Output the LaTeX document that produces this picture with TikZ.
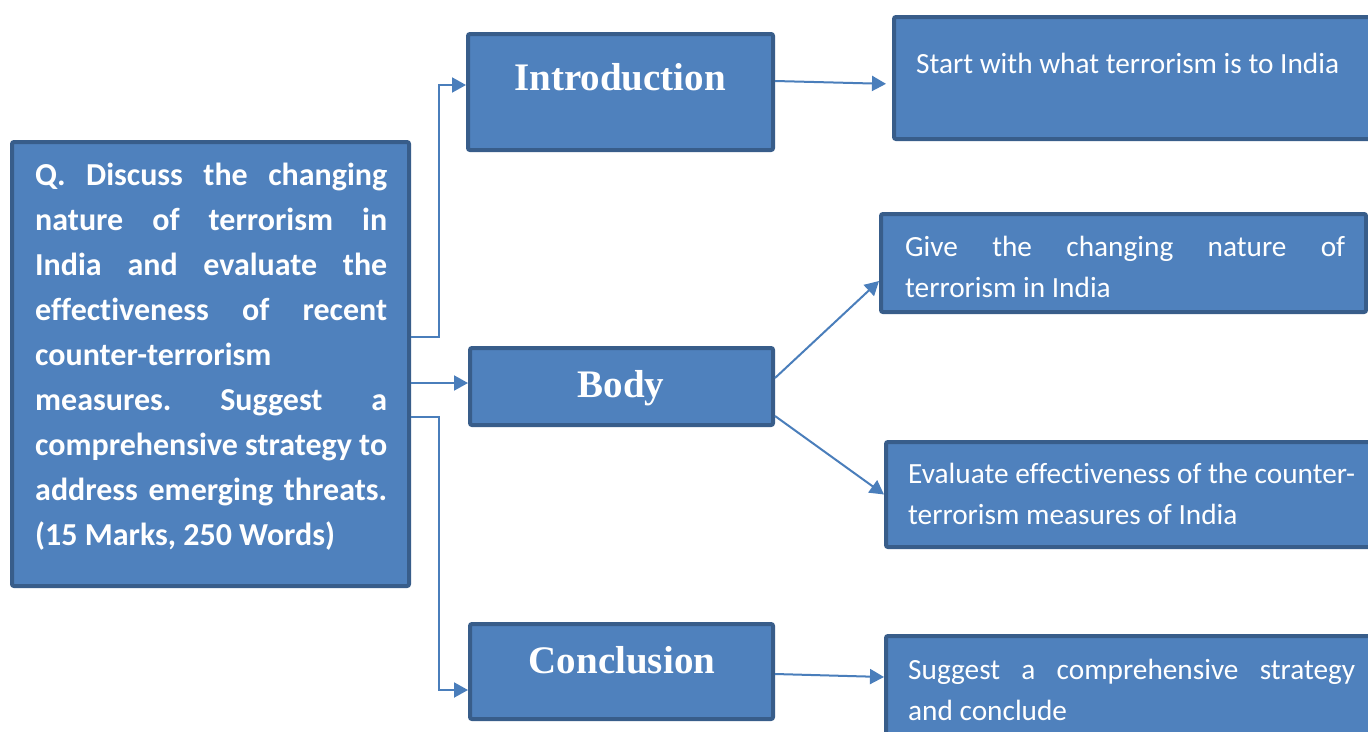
\documentclass[tikz,border=0pt]{standalone}
\usepackage{fontspec}
\setmainfont{Carlito}[Ligatures=NoCommon]
\newfontfamily\headfont{Liberation Serif}
\usetikzlibrary{arrows.meta}
\definecolor{boxfill}{HTML}{4F81BD}
\definecolor{boxline}{HTML}{385D8A}
\definecolor{conncol}{HTML}{4A7EBB}
\newcommand{\jl}[2]{\makebox[#1][s]{#2}}
\frenchspacing
\begin{document}
\begin{tikzpicture}[x=1pt,y=-1pt,
  box/.style={draw=boxline, fill=boxfill, line width=4pt, rounded corners=2pt, inner sep=0pt, anchor=north west},
  head/.style={text=white, inner sep=0pt, anchor=base, font=\headfont\bfseries\fontsize{39}{39}\selectfont},
  qtext/.style={text=white, inner sep=0pt, anchor=base west, font=\bfseries\fontsize{32}{45}\selectfont},
  rtext/.style={text=white, inner sep=0pt, anchor=base west, font=\fontsize{29.3}{41}\selectfont},
  conn/.style={draw=conncol, line width=2pt, -{Triangle[length=14pt,width=15pt]}}]
\useasboundingbox (0,0) rectangle (1368,731);
\clip (0,0) rectangle (1368,731);
\fill[white] (0,0) rectangle (1368,731);
% boxes
\node[box, minimum width=397pt, minimum height=444pt] (q) at (10,140) {};
\node[box, minimum width=305pt, minimum height=116pt] (intro) at (466,32) {};
\node[box, minimum width=303pt, minimum height=77pt] (body) at (468,346) {};
\node[box, minimum width=303pt, minimum height=95pt] (concl) at (468,622) {};
\node[box, minimum width=478pt, minimum height=122pt] (r1) at (892,15) {};
\node[box, minimum width=485pt, minimum height=98pt] (r2) at (879,212) {};
\node[box, minimum width=486pt, minimum height=105pt] (r3) at (884,440) {};
\node[box, minimum width=486pt, minimum height=120pt] (r4) at (884,634) {};
% texts
\node[qtext] (qt) at (35,185) {\parbox[t]{352pt}{%
\jl{352pt}{Q. Discuss the changing}\\
\jl{352pt}{nature of terrorism in}\\
\jl{352pt}{India and evaluate the}\\
\jl{352pt}{effectiveness of recent}\\
counter-terrorism\\
\jl{352pt}{measures. Suggest a}\\
\jl{352pt}{comprehensive strategy to}\\
\jl{352pt}{address emerging threats.}\\
(15 Marks, 250 Words)}};
\node[head] (h1) at (620,90) {Introduction};
\node[head] (h2) at (621,397) {Body};
\node[head] (h3) at (622,673) {Conclusion};
\node[rtext] (t1) at (916,73) {Start with what terrorism is to India};
\node[rtext] (t2) at (905,256) {\parbox[t]{440pt}{\jl{440pt}{Give the changing nature of}\\terrorism in India}};
\node[rtext] (t3) at (908,483) {\parbox[t]{447pt}{\jl{447pt}{Evaluate effectiveness of the counter-}\\terrorism measures of India}};
\node[rtext] (t4) at (908,679) {\parbox[t]{447pt}{\jl{447pt}{Suggest a comprehensive strategy}\\and conclude}};
% connectors
\draw[conn] (q.east |- 0,337) -- (439,337) |- ([yshift=7pt]intro.west);
\draw[conn] (q.east |- 0,383) -- ([yshift=3.5pt]body.west);
\draw[conn] (q.east |- 0,417) -- (439,417) |- ([yshift=-18.5pt]concl.west);
\draw[conn, shorten >=6pt] ([yshift=11pt]intro.east) -- ([yshift=-6pt]r1.west);
\draw[conn] ([yshift=8.5pt]body.east) -- ([yshift=-18pt]r2.west);
\draw[conn] ([yshift=-29.5pt]body.east) -- (r3.west);
\draw[conn] ([yshift=-2.5pt]concl.east) -- ([yshift=19pt]r4.west);
\end{tikzpicture}
\end{document}
